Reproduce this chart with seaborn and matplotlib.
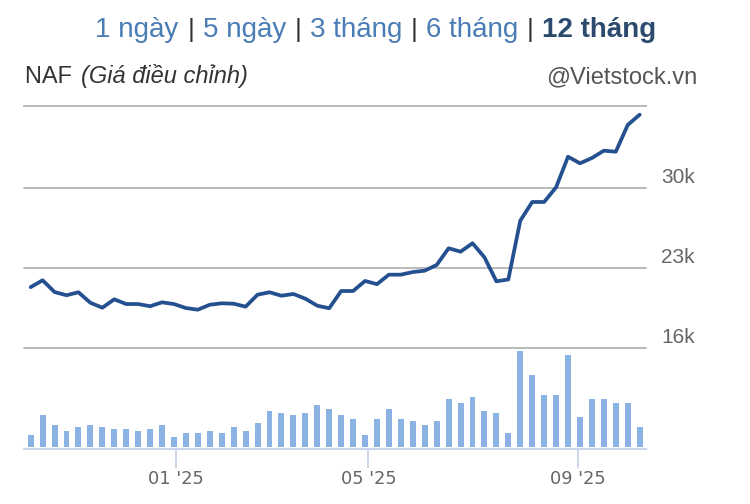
import matplotlib
matplotlib.use("Agg")
import matplotlib.pyplot as plt
import matplotlib.transforms as mtransforms
import numpy as np
import pandas as pd
import seaborn as sns

# ---------------- data ----------------
price = [21300, 21900, 20870, 20590, 20850, 19930, 19500, 20235, 19820, 19820,
         19630, 19970, 19820, 19470, 19325, 19760, 19885, 19850, 19590, 20640,
         20850, 20550, 20700, 20290, 19675, 19450, 20960, 20960, 21840, 21560,
         22390, 22390, 22620, 22740, 23240, 24700, 24400, 25140, 23910, 21810,
         21970, 27110, 28750, 28750, 30035, 32710, 32135, 32600, 33240, 33150,
         35490, 36390]
volume = [117, 317, 217, 157, 197, 217, 197, 177, 177, 157,
          177, 217, 97, 137, 137, 157, 137, 197, 157, 237,
          357, 337, 317, 337, 417, 377, 317, 277, 117, 277,
          377, 277, 257, 217, 257, 477, 437, 497, 357, 337,
          137, 957, 717, 517, 517, 917, 297, 477, 477, 437,
          437, 197]
week_dates = pd.date_range("2024-10-08", periods=53, freq="7D")
week_dates = week_dates[week_dates != pd.Timestamp("2025-01-28")]  # Tet week: no trading
x_tick_dates = ["2025-01-01", "2025-05-01", "2025-09-01"]
x_tick_labels = ["01 '25", "05 '25", "09 '25"]
y_ticks = [16000, 23000, 30000]
y_tick_labels = ["16k", "23k", "30k"]
periods = ["1 ngày", "5 ngày", "3 tháng", "6 tháng", "12 tháng"]
ticker = "NAF"
subtitle = "(Giá điều chỉnh)"
source = "@Vietstock.vn"

df = pd.DataFrame({"idx": np.arange(len(price)), "price": price, "volume": volume})

# ---------------- style ----------------
sns.set_theme(style="white")
plt.rcParams["font.family"] = ["Liberation Sans", "DejaVu Sans"]

W, H = 750, 504
fig = plt.figure(figsize=(W / 100, H / 100), dpi=100)
fig.patch.set_facecolor("white")

def fr(x0, y_top, x1, y_bot):
    return [x0 / W, 1 - y_bot / H, (x1 - x0) / W, (y_bot - y_top) / H]

LINE = "#24508f"
BAR = "#8ab3e3"
GRID = "#b4b4b4"
AXIS = "#ccd6eb"

x_lo, x_hi = -0.56, 51.53

# price pane
ax_p = fig.add_axes(fr(24, 105.7, 646, 347.7))
sns.lineplot(data=df, x="idx", y="price", ax=ax_p, color=LINE, linewidth=2.7)
ax_p.set_xlim(x_lo, x_hi)
ax_p.set_ylim(16000, 37175)
ax_p.set_xticks([])
ax_p.set_yticks(y_ticks)
ax_p.set_yticklabels([])
ax_p.tick_params(axis="y", length=0)
ax_p.set_xlabel("")
ax_p.set_ylabel("")
ax_p.grid(axis="y", color=GRID, linewidth=1.3)
for gl in ax_p.get_ygridlines():
    gl.set_clip_on(False)
for s in ["left", "right", "bottom"]:
    ax_p.spines[s].set_visible(False)
ax_p.spines["top"].set_color(GRID)
ax_p.spines["top"].set_linewidth(1.3)
ax_p.patch.set_alpha(0)

lab_tr = mtransforms.offset_copy(
    mtransforms.blended_transform_factory(ax_p.transAxes, ax_p.transData),
    fig=fig, x=15, y=5, units="dots")
for v, lab in zip(y_ticks, y_tick_labels):
    ax_p.text(1, v, lab, transform=lab_tr, ha="left", va="baseline",
              fontsize=15, color="#666666")

# volume pane
ax_v = fig.add_axes(fr(24, 347.7, 646, 449.3))
sns.barplot(data=df, x="idx", y="volume", ax=ax_v, color=BAR, width=0.5,
            saturation=1, linewidth=0)
ax_v.set_xlim(x_lo, x_hi)
ax_v.set_ylim(-26, 990)
ax_v.set_yticks([])
ax_v.set_xlabel("")
ax_v.set_ylabel("")
d_num = week_dates.map(pd.Timestamp.toordinal).to_numpy()
t_num = [pd.Timestamp(d).toordinal() for d in x_tick_dates]
tick_pos = np.interp(t_num, d_num, np.arange(len(d_num)))
ax_v.set_xticks(tick_pos)
ax_v.set_xticklabels(x_tick_labels, fontfamily="DejaVu Sans", fontsize=12.8, color="#666666")
ax_v.tick_params(axis="x", bottom=True, length=14, width=1.4, color=AXIS,
                 direction="out", pad=1)
for s in ["left", "right", "top"]:
    ax_v.spines[s].set_visible(False)
ax_v.spines["bottom"].set_color(AXIS)
ax_v.spines["bottom"].set_linewidth(1.5)
ax_v.patch.set_alpha(0)

# ---------------- header texts ----------------
pix = mtransforms.IdentityTransform()
renderer = fig.canvas.get_renderer()

def py(y_from_top):
    return H - y_from_top

LINK = "#4a7cb5"
BOLD = "#2c4a6e"
title_size = 20
gap = 24
items = []
for i, p in enumerate(periods):
    last = i == len(periods) - 1
    t = fig.text(0, py(36.7), p, transform=pix, fontsize=title_size,
                 color=BOLD if last else LINK, fontweight="bold" if last else "normal",
                 ha="left", va="baseline")
    items.append(t)
widths = [t.get_window_extent(renderer).width for t in items]
total = sum(widths) + gap * (len(items) - 1)
x = 376 - total / 2
for i, (t, w) in enumerate(zip(items, widths)):
    t.set_x(x)
    if i < len(items) - 1:
        fig.text(x + w + gap / 2, py(36.7), "|", transform=pix, fontsize=title_size - 1,
                 color="#333333", ha="center", va="baseline")
    x += w + gap

t1 = fig.text(25, py(83.3), ticker + " ", transform=pix, fontsize=17,
              color="#333333", ha="left", va="baseline")
w1 = t1.get_window_extent(renderer).width
fig.text(25 + w1 + 2, py(83.3), subtitle, transform=pix, fontsize=17,
         color="#333333", style="italic", ha="left", va="baseline")
fig.text(697, py(83.3), source, transform=pix, fontsize=17,
         color="#555555", ha="right", va="baseline")

fig.savefig("out.png", dpi=100)
